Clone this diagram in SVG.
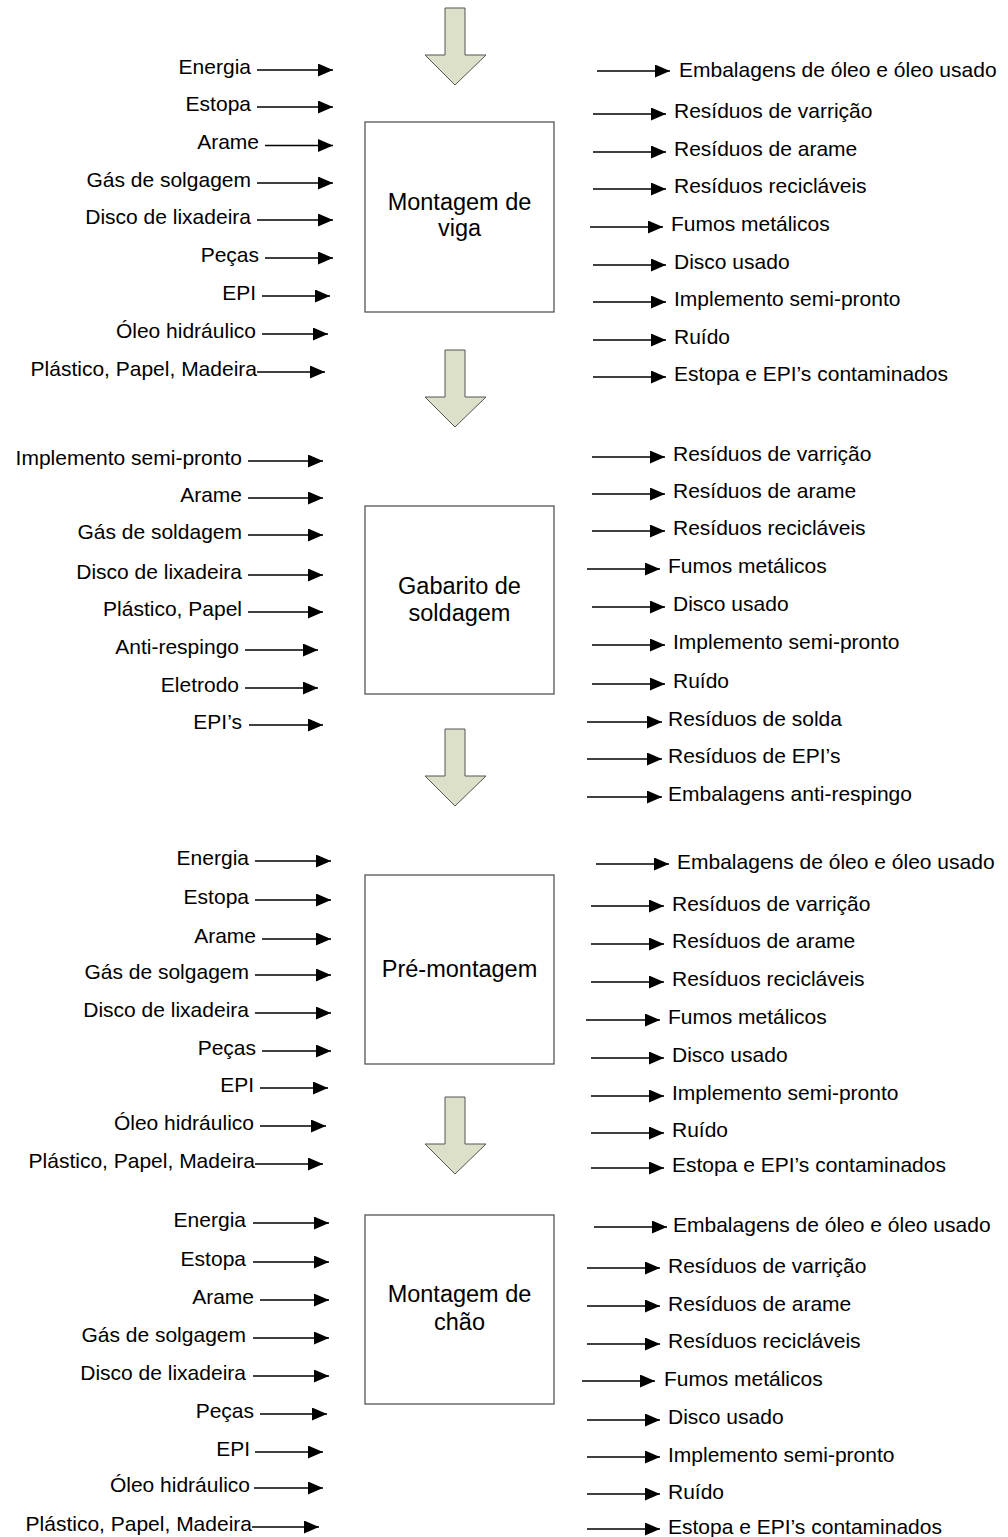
<svg xmlns="http://www.w3.org/2000/svg" width="1008" height="1537" viewBox="0 0 1008 1537">
  <defs>
    <marker id="tip" markerUnits="userSpaceOnUse" markerWidth="16" markerHeight="14" refX="15" refY="6.5" orient="auto">
      <path d="M0,0 L15,6.5 L0,13 z" fill="#000"/>
    </marker>
    <path id="flow" d="M0,0 H20 V47 H41 L10,77 L-20,47 H0 z"/>
  </defs>
  <style>
    text { font-family: "Liberation Sans", Arial, sans-serif; fill: #000; }
    .lbl { font-size: 21px; }
    .in { text-anchor: end; }
    .box { fill: #fff; stroke: #555; stroke-width: 1.3; }
    .name { font-size: 23.5px; text-anchor: middle; }
    .flow { fill: #dde0c9; stroke: #555; stroke-width: 1; }
    .conn line { stroke: #000; stroke-width: 1.3; marker-end: url(#tip); }
  </style>
  <rect width="1008" height="1537" fill="#fff"/>

  <!-- process flow arrows between stages -->
  <g id="flow-arrows" class="flow">
    <use href="#flow" x="445" y="8"/>
    <use href="#flow" x="445" y="350"/>
    <use href="#flow" x="445" y="729"/>
    <use href="#flow" x="445" y="1097"/>
  </g>

  <!-- stage boxes -->
  <g id="stage-viga">
    <rect class="box" x="365" y="122" width="189" height="190"/>
    <text class="name" x="459.5" y="210">Montagem de</text>
    <text class="name" x="459.5" y="236">viga</text>
  </g>
  <g id="stage-gabarito">
    <rect class="box" x="365" y="506" width="189" height="188"/>
    <text class="name" x="459.5" y="594">Gabarito de</text>
    <text class="name" x="459.5" y="621">soldagem</text>
  </g>
  <g id="stage-premontagem">
    <rect class="box" x="365" y="875" width="189" height="189"/>
    <text class="name" x="459.5" y="977">Pré-montagem</text>
  </g>
  <g id="stage-chao">
    <rect class="box" x="365" y="1215" width="189" height="189"/>
    <text class="name" x="459.5" y="1302">Montagem de</text>
    <text class="name" x="459.5" y="1330">chão</text>
  </g>

  <!-- connectors: inputs (left) and outputs (right) -->
  <g id="connectors" class="conn">
    <!-- stage 1 inputs -->
    <line x1="257" y1="70" x2="333" y2="70"/>
    <line x1="257" y1="107" x2="333" y2="107"/>
    <line x1="265" y1="145.5" x2="333" y2="145.5"/>
    <line x1="257" y1="183" x2="333" y2="183"/>
    <line x1="257" y1="220" x2="333" y2="220"/>
    <line x1="265" y1="258" x2="333" y2="258"/>
    <line x1="262" y1="296" x2="330" y2="296"/>
    <line x1="262" y1="334" x2="328" y2="334"/>
    <line x1="257" y1="372" x2="325" y2="372"/>
    <!-- stage 1 outputs -->
    <line x1="597" y1="71" x2="670" y2="71"/>
    <line x1="593" y1="114" x2="666" y2="114"/>
    <line x1="593" y1="152" x2="666" y2="152"/>
    <line x1="593" y1="189" x2="666" y2="189"/>
    <line x1="590" y1="227" x2="663" y2="227"/>
    <line x1="593" y1="265" x2="666" y2="265"/>
    <line x1="593" y1="302" x2="666" y2="302"/>
    <line x1="593" y1="340" x2="666" y2="340"/>
    <line x1="593" y1="377" x2="666" y2="377"/>

    <!-- stage 2 inputs -->
    <line x1="248" y1="461" x2="323" y2="461"/>
    <line x1="248" y1="498" x2="323" y2="498"/>
    <line x1="248" y1="535" x2="323" y2="535"/>
    <line x1="248" y1="575" x2="323" y2="575"/>
    <line x1="248" y1="612" x2="323" y2="612"/>
    <line x1="245" y1="650" x2="318" y2="650"/>
    <line x1="245" y1="688" x2="318" y2="688"/>
    <line x1="249" y1="725" x2="323" y2="725"/>
    <!-- stage 2 outputs -->
    <line x1="592" y1="457" x2="665" y2="457"/>
    <line x1="592" y1="494" x2="665" y2="494"/>
    <line x1="592" y1="531" x2="665" y2="531"/>
    <line x1="587" y1="569" x2="660" y2="569"/>
    <line x1="592" y1="607" x2="665" y2="607"/>
    <line x1="592" y1="645" x2="665" y2="645"/>
    <line x1="592" y1="684" x2="665" y2="684"/>
    <line x1="587" y1="722" x2="662" y2="722"/>
    <line x1="587" y1="759" x2="662" y2="759"/>
    <line x1="587" y1="797" x2="662" y2="797"/>

    <!-- stage 3 inputs -->
    <line x1="255" y1="861" x2="331" y2="861"/>
    <line x1="255" y1="900" x2="331" y2="900"/>
    <line x1="262" y1="939" x2="331" y2="939"/>
    <line x1="255" y1="975" x2="331" y2="975"/>
    <line x1="255" y1="1013" x2="331" y2="1013"/>
    <line x1="262" y1="1051" x2="331" y2="1051"/>
    <line x1="260" y1="1088" x2="328" y2="1088"/>
    <line x1="260" y1="1126" x2="326" y2="1126"/>
    <line x1="255" y1="1164" x2="323" y2="1164"/>
    <!-- stage 3 outputs -->
    <line x1="596" y1="864" x2="669" y2="864"/>
    <line x1="591" y1="906" x2="664" y2="906"/>
    <line x1="591" y1="944" x2="664" y2="944"/>
    <line x1="591" y1="982" x2="664" y2="982"/>
    <line x1="586" y1="1020" x2="660" y2="1020"/>
    <line x1="591" y1="1058" x2="664" y2="1058"/>
    <line x1="591" y1="1096" x2="664" y2="1096"/>
    <line x1="591" y1="1133" x2="664" y2="1133"/>
    <line x1="591" y1="1168" x2="664" y2="1168"/>

    <!-- stage 4 inputs -->
    <line x1="253" y1="1223" x2="329" y2="1223"/>
    <line x1="253" y1="1262" x2="329" y2="1262"/>
    <line x1="260" y1="1300" x2="329" y2="1300"/>
    <line x1="253" y1="1338" x2="329" y2="1338"/>
    <line x1="253" y1="1376" x2="329" y2="1376"/>
    <line x1="260" y1="1414" x2="327" y2="1414"/>
    <line x1="255" y1="1452" x2="323" y2="1452"/>
    <line x1="254" y1="1488" x2="323" y2="1488"/>
    <line x1="252" y1="1527" x2="319" y2="1527"/>
    <!-- stage 4 outputs -->
    <line x1="594" y1="1227" x2="667" y2="1227"/>
    <line x1="587" y1="1268" x2="660" y2="1268"/>
    <line x1="587" y1="1306" x2="660" y2="1306"/>
    <line x1="587" y1="1344" x2="660" y2="1344"/>
    <line x1="582" y1="1381" x2="655" y2="1381"/>
    <line x1="587" y1="1420" x2="660" y2="1420"/>
    <line x1="587" y1="1457" x2="660" y2="1457"/>
    <line x1="587" y1="1494" x2="660" y2="1494"/>
    <line x1="587" y1="1529" x2="660" y2="1529"/>
  </g>

  <!-- input labels -->
  <g id="inputs-1" class="lbl in">
    <text class="lbl in" x="251" y="74">Energia</text>
    <text class="lbl in" x="251" y="111">Estopa</text>
    <text class="lbl in" x="259" y="149">Arame</text>
    <text class="lbl in" x="251" y="187">Gás de solgagem</text>
    <text class="lbl in" x="251" y="224">Disco de lixadeira</text>
    <text class="lbl in" x="259" y="262">Peças</text>
    <text class="lbl in" x="256" y="300">EPI</text>
    <text class="lbl in" x="256" y="338">Óleo hidráulico</text>
    <text class="lbl in" x="257" y="376">Plástico, Papel, Madeira</text>
  </g>
  <g id="outputs-1">
    <text class="lbl" x="679" y="77">Embalagens de óleo e óleo usado</text>
    <text class="lbl" x="674" y="118">Resíduos de varrição</text>
    <text class="lbl" x="674" y="156">Resíduos de arame</text>
    <text class="lbl" x="674" y="193">Resíduos recicláveis</text>
    <text class="lbl" x="671" y="231">Fumos metálicos</text>
    <text class="lbl" x="674" y="269">Disco usado</text>
    <text class="lbl" x="674" y="306">Implemento semi-pronto</text>
    <text class="lbl" x="674" y="344">Ruído</text>
    <text class="lbl" x="674" y="381">Estopa e EPI’s contaminados</text>
  </g>

  <g id="inputs-2">
    <text class="lbl in" x="242" y="465">Implemento semi-pronto</text>
    <text class="lbl in" x="242" y="502">Arame</text>
    <text class="lbl in" x="242" y="539">Gás de soldagem</text>
    <text class="lbl in" x="242" y="579">Disco de lixadeira</text>
    <text class="lbl in" x="242" y="616">Plástico, Papel</text>
    <text class="lbl in" x="239" y="654">Anti-respingo</text>
    <text class="lbl in" x="239" y="692">Eletrodo</text>
    <text class="lbl in" x="242" y="729">EPI’s</text>
  </g>
  <g id="outputs-2">
    <text class="lbl" x="673" y="461">Resíduos de varrição</text>
    <text class="lbl" x="673" y="498">Resíduos de arame</text>
    <text class="lbl" x="673" y="535">Resíduos recicláveis</text>
    <text class="lbl" x="668" y="573">Fumos metálicos</text>
    <text class="lbl" x="673" y="611">Disco usado</text>
    <text class="lbl" x="673" y="649">Implemento semi-pronto</text>
    <text class="lbl" x="673" y="688">Ruído</text>
    <text class="lbl" x="668" y="726">Resíduos de solda</text>
    <text class="lbl" x="668" y="763">Resíduos de EPI’s</text>
    <text class="lbl" x="668" y="801">Embalagens anti-respingo</text>
  </g>

  <g id="inputs-3">
    <text class="lbl in" x="249" y="865">Energia</text>
    <text class="lbl in" x="249" y="904">Estopa</text>
    <text class="lbl in" x="256" y="943">Arame</text>
    <text class="lbl in" x="249" y="979">Gás de solgagem</text>
    <text class="lbl in" x="249" y="1017">Disco de lixadeira</text>
    <text class="lbl in" x="256" y="1055">Peças</text>
    <text class="lbl in" x="254" y="1092">EPI</text>
    <text class="lbl in" x="254" y="1130">Óleo hidráulico</text>
    <text class="lbl in" x="255" y="1168">Plástico, Papel, Madeira</text>
  </g>
  <g id="outputs-3">
    <text class="lbl" x="677" y="869">Embalagens de óleo e óleo usado</text>
    <text class="lbl" x="672" y="911">Resíduos de varrição</text>
    <text class="lbl" x="672" y="948">Resíduos de arame</text>
    <text class="lbl" x="672" y="986">Resíduos recicláveis</text>
    <text class="lbl" x="668" y="1024">Fumos metálicos</text>
    <text class="lbl" x="672" y="1062">Disco usado</text>
    <text class="lbl" x="672" y="1100">Implemento semi-pronto</text>
    <text class="lbl" x="672" y="1137">Ruído</text>
    <text class="lbl" x="672" y="1172">Estopa e EPI’s contaminados</text>
  </g>

  <g id="inputs-4">
    <text class="lbl in" x="246" y="1227">Energia</text>
    <text class="lbl in" x="246" y="1266">Estopa</text>
    <text class="lbl in" x="254" y="1304">Arame</text>
    <text class="lbl in" x="246" y="1342">Gás de solgagem</text>
    <text class="lbl in" x="246" y="1380">Disco de lixadeira</text>
    <text class="lbl in" x="254" y="1418">Peças</text>
    <text class="lbl in" x="250" y="1456">EPI</text>
    <text class="lbl in" x="250" y="1492">Óleo hidráulico</text>
    <text class="lbl in" x="252" y="1531">Plástico, Papel, Madeira</text>
  </g>
  <g id="outputs-4">
    <text class="lbl" x="673" y="1232">Embalagens de óleo e óleo usado</text>
    <text class="lbl" x="668" y="1273">Resíduos de varrição</text>
    <text class="lbl" x="668" y="1311">Resíduos de arame</text>
    <text class="lbl" x="668" y="1348">Resíduos recicláveis</text>
    <text class="lbl" x="664" y="1386">Fumos metálicos</text>
    <text class="lbl" x="668" y="1424">Disco usado</text>
    <text class="lbl" x="668" y="1462">Implemento semi-pronto</text>
    <text class="lbl" x="668" y="1499">Ruído</text>
    <text class="lbl" x="668" y="1534">Estopa e EPI’s contaminados</text>
  </g>
</svg>
